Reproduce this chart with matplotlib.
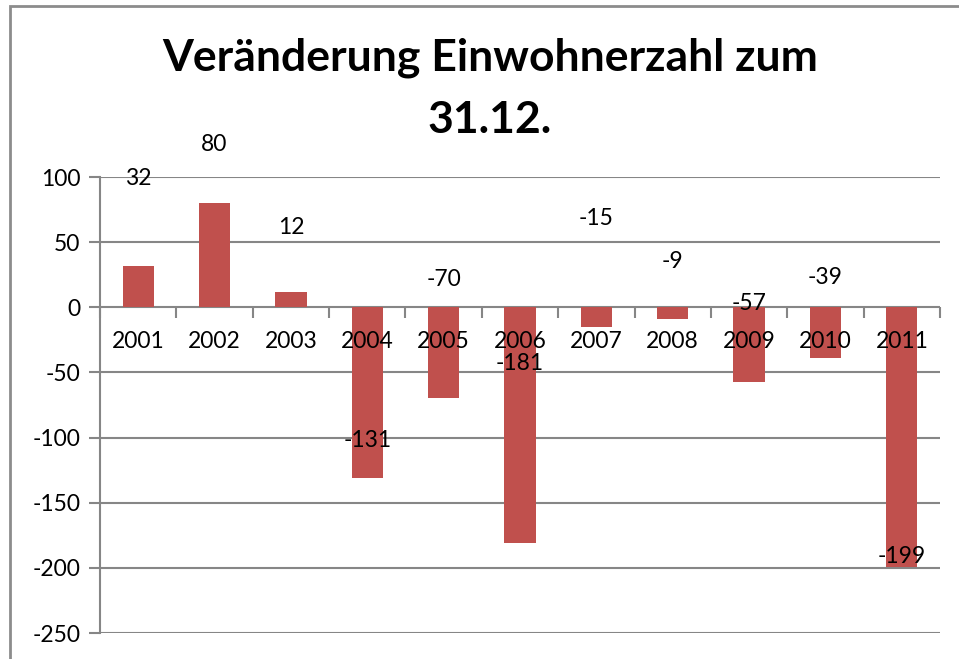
import matplotlib.pyplot as plt
from matplotlib.patches import Rectangle

# Daten
jahre = ["2001", "2002", "2003", "2004", "2005", "2006", "2007", "2008", "2009", "2010", "2011"]
veraenderung = [32, 80, 12, -131, -70, -181, -15, -9, -57, -39, -199]
# Lage der Datenbeschriftungen (wie im Original verschoben)
label_y = [99, 125, 61, -102, 21, -43, 68, 35, 3, 23, -191]
titel_zeilen = ["Veränderung Einwohnerzahl zum", "31.12."]

plt.rcParams['font.family'] = ['Lato', 'DejaVu Sans']
plt.rcParams['axes.unicode_minus'] = False

fig = plt.figure(figsize=(9.59, 6.59), dpi=100)
fig.patch.set_facecolor("white")

# Rahmen um das Diagramm
fig.patches.append(Rectangle((10 / 959, -0.1), 1.1, 1 - 6 / 659 + 0.1,
                             transform=fig.transFigure, fill=False,
                             edgecolor="#8c8c8c", linewidth=2))

ax = fig.add_axes([100 / 959, 26 / 659, 840 / 959, 456 / 659])
grau = "#868686"

yticks = list(range(-250, 101, 50))
# Gitternetzlinien hinter den Balken
for yt in yticks:
    ax.axhline(yt, color=grau, linewidth=1.5, zorder=1)

x = range(len(jahre))
ax.bar(x, veraenderung, width=0.41, color="#C0504D", zorder=2)

for i, (v, ly) in enumerate(zip(veraenderung, label_y)):
    ax.text(i, ly, str(v), ha="center", va="center", fontsize=16.5, zorder=4)

# Achsen (und Beschriftungen) vor den Balken
ax.set_axisbelow(False)
ax.set_ylim(-250, 100)
ax.set_xlim(-0.5, len(jahre) - 0.5)
ax.set_yticks(yticks)
ax.tick_params(axis="y", labelsize=16.5, length=8, color=grau, width=1.5, pad=6)

# Kategorieachse bei 0
ax.spines["bottom"].set_position(("data", 0))
ax.spines["bottom"].set_visible(False)
ax.set_xticks([i + 0.5 for i in range(-1, len(jahre))], minor=False)
ax.set_xticklabels([])
ax.set_xticks(list(x), minor=True)
ax.set_xticklabels(jahre, minor=True)
ax.tick_params(axis="x", which="major", length=8, color=grau, width=1.5, direction="out")
ax.tick_params(axis="x", which="minor", length=0, labelsize=16.5, pad=17)

ax.spines["left"].set_color(grau)
ax.spines["left"].set_linewidth(1.5)
ax.spines["top"].set_visible(False)
ax.spines["right"].set_visible(False)

# Titel in zwei Zeilen
fig.text(490 / 959, 1 - 58 / 659, titel_zeilen[0],
         ha="center", va="center", fontsize=32, fontweight="bold")
fig.text(490 / 959, 1 - 120 / 659, titel_zeilen[1],
         ha="center", va="center", fontsize=32, fontweight="bold")

plt.savefig("out.png", dpi=100)
